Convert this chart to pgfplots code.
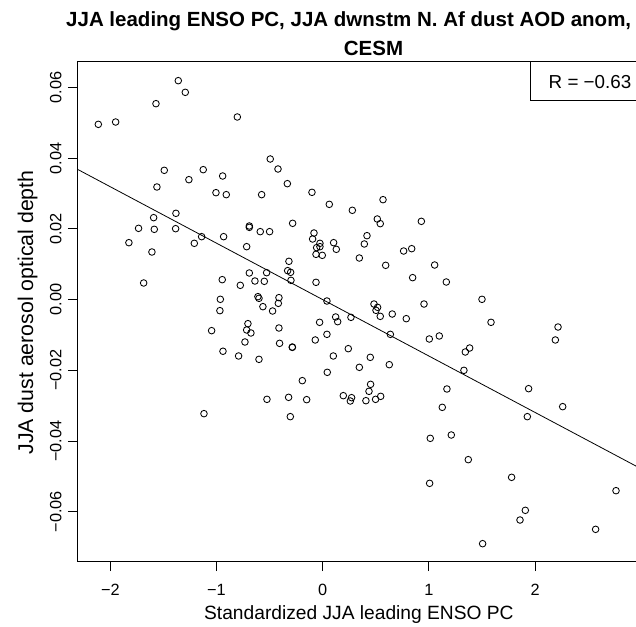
\documentclass[border=0pt]{standalone}
\usepackage{fontspec}
\setmainfont{Liberation Sans}
\usepackage{pgfplots}
\pgfplotsset{compat=1.18}
\usepackage{pgfplotstable}

\pgfplotstableread{
x y
-2.113 0.04962
-1.950 0.05028
-1.570 0.05547
-1.360 0.06198
-1.294 0.05868
-0.804 0.05170
-0.494 0.03981
-0.421 0.03698
-1.492 0.03661
-1.125 0.03679
-1.260 0.03396
-0.942 0.03500
-1.561 0.03189
-1.005 0.03028
-0.908 0.02972
-0.575 0.02972
-0.333 0.03283
-0.101 0.03038
0.062 0.02698
0.279 0.02529
-1.382 0.02444
-1.592 0.02321
-1.734 0.02019
-1.586 0.01991
-1.385 0.02009
-1.825 0.01613
-1.209 0.01595
-1.140 0.01783
-0.933 0.01783
-1.608 0.01349
-0.691 0.02085
-0.691 0.02047
-0.588 0.01925
-0.500 0.01925
-0.283 0.02161
-0.716 0.01500
-0.082 0.01887
-0.095 0.01717
-0.026 0.01595
-0.026 0.01500
-0.057 0.01472
-0.063 0.01283
-0.004 0.01255
0.103 0.01613
0.128 0.01425
0.345 0.01179
-1.686 0.00472
-0.691 0.00755
-0.528 0.00764
-0.638 0.00528
-0.550 0.00519
-0.318 0.01085
-0.330 0.00821
-0.302 0.00774
-0.299 0.00547
-0.063 0.00491
-0.946 0.00566
-0.776 0.00406
-0.964 0.00010
-0.968 -0.00311
-0.610 0.00085
-0.600 0.00038
-0.563 -0.00198
-0.412 0.00057
-0.418 -0.00104
-0.472 -0.00321
0.040 -0.00038
-0.029 -0.00641
0.040 -0.00981
0.122 -0.00490
0.141 -0.00623
0.266 -0.00500
-1.046 -0.00877
-0.704 -0.00679
-0.716 -0.00858
-0.676 -0.00943
-0.732 -0.01198
-0.412 -0.00802
-0.406 -0.01236
-0.286 -0.01340
-0.286 -0.01350
-0.070 -0.01141
0.241 -0.01387
-0.939 -0.01460
0.568 0.02830
0.514 0.02283
0.542 0.02151
0.929 0.02217
0.417 0.01811
0.392 0.01576
0.762 0.01377
0.838 0.01443
0.593 0.00972
1.054 0.00981
0.847 0.00623
1.164 0.00500
1.500 0.00010
0.954 -0.00123
0.483 -0.00123
0.517 -0.00217
0.502 -0.00302
0.542 -0.00472
0.655 -0.00406
0.787 -0.00538
1.585 -0.00641
2.216 -0.00774
2.191 -0.01141
0.637 -0.00981
1.004 -0.01113
1.098 -0.01028
-0.792 -0.01594
-0.600 -0.01689
0.100 -0.01594
0.345 -0.01915
0.043 -0.02056
-0.192 -0.02292
-0.525 -0.02821
-0.321 -0.02764
-0.151 -0.02830
0.194 -0.02717
0.272 -0.02774
0.260 -0.02868
-1.118 -0.03226
-0.305 -0.03311
0.448 -0.01632
0.627 -0.01840
0.451 -0.02396
0.436 -0.02594
0.407 -0.02859
0.498 -0.02821
0.546 -0.02736
1.343 -0.01481
1.384 -0.01368
1.330 -0.02000
1.170 -0.02528
1.126 -0.03047
1.939 -0.02519
2.260 -0.03028
1.927 -0.03311
1.013 -0.03924
1.211 -0.03830
1.371 -0.04528
1.007 -0.05198
1.779 -0.05028
2.762 -0.05406
1.908 -0.05962
1.858 -0.06236
2.570 -0.06500
1.506 -0.06906
}\dustdata

\begin{document}
\begin{tikzpicture}[x=1pt,y=1pt]
\begin{axis}[
  at={(77.5pt,64.3pt)}, anchor=south west,
  scale only axis, width=559.2pt, height=500pt,
  xmin=-2.309, xmax=2.957, ymin=-0.07416, ymax=0.06735,
  axis line style={line width=1pt, black},
  xtick={-2,-1,0,1,2}, xticklabels={−2,−1,0,1,2},
  ytick={-0.06,-0.04,-0.02,0,0.02,0.04,0.06},
  yticklabels={−0.06,−0.04,−0.02,0.00,0.02,0.04,0.06},
  xtick pos=bottom, ytick pos=left, tick align=outside,
  major tick length=9.5pt,
  tick style={line width=1pt, black},
  ticklabel style={font=\fontsize{16.3}{18}\selectfont},
  xticklabel style={anchor=base, inner sep=0pt, yshift=-23.8pt},
  yticklabel style={xshift=-6.3pt, rotate=90, anchor=south, inner sep=0pt},
  scaled y ticks=false,
]
\addplot[only marks, mark=o, mark size=3.3pt, mark options={line width=0.85pt, black}] table[x=x, y=y] {\dustdata};
\addplot[black, line width=0.8pt] coordinates {(-2.309,0.03689) (2.957,-0.04720)};
\end{axis}
\node[anchor=base, font=\bfseries\fontsize{20.5}{24}\selectfont] at (348.7,599.3) {JJA leading ENSO PC, JJA dwnstm N. Af dust AOD anom,};
\node[anchor=base, font=\bfseries\fontsize{20.5}{24}\selectfont] at (373.5,570) {CESM};
\node[anchor=base, font=\fontsize{19.2}{22}\selectfont] at (358.9,6.7) {Standardized JJA leading ENSO PC};
\node[rotate=90, anchor=base, font=\fontsize{21.3}{24}\selectfont] at (33,313.5) {JJA dust aerosol optical depth};
\draw[line width=1pt] (530,564.3) -- (530,525.3) -- (660,525.3);
\node[anchor=base, font=\fontsize{18.8}{22}\selectfont] at (590,537.7) {R = −0.63};
\pgfresetboundingbox
\useasboundingbox (0,0) rectangle (636,626);
\end{tikzpicture}
\end{document}
